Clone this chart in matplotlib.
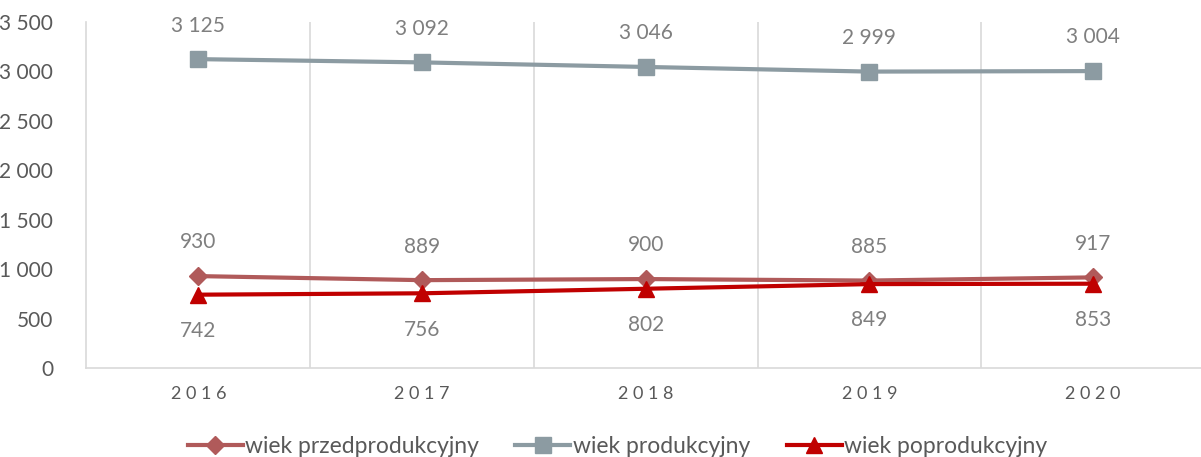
import matplotlib.pyplot as plt

plt.rcParams['font.family'] = ['Lato', 'DejaVu Sans']

years = ['2016', '2017', '2018', '2019', '2020']
przed = [930, 889, 900, 885, 917]
prod = [3125, 3092, 3046, 2999, 3004]
popro = [742, 756, 802, 849, 853]

c_przed = '#B05A5A'
c_prod = '#8C9BA2'
c_popro = '#C00000'
c_text = '#7F7F7F'

fig = plt.figure(figsize=(12.01, 4.57), dpi=100)
ax = fig.add_axes([0.0720, 0.1947, 0.9313, 0.757])

x = list(range(len(years)))
ax.plot(x, przed, color=c_przed, lw=3, marker='D', ms=9, label='wiek przedprodukcyjny', zorder=3)
ax.plot(x, prod, color=c_prod, lw=3, marker='s', ms=11, label='wiek produkcyjny', zorder=3)
ax.plot(x, popro, color=c_popro, lw=3, marker='^', ms=11, label='wiek poprodukcyjny', zorder=3)

def fmt(v):
    return '{:,}'.format(v).replace(',', ' ')

for i in x:
    ax.annotate(fmt(przed[i]), (i, przed[i]), xytext=(0, 17), textcoords='offset points',
                ha='center', va='bottom', fontsize=15, color=c_text)
    ax.annotate(fmt(prod[i]), (i, prod[i]), xytext=(0, 17), textcoords='offset points',
                ha='center', va='bottom', fontsize=15, color=c_text)
    ax.annotate(fmt(popro[i]), (i, popro[i]), xytext=(0, -19), textcoords='offset points',
                ha='center', va='top', fontsize=15, color=c_text)

ax.set_xlim(-0.5, len(years) - 0.5)
ax.set_ylim(0, 3500)
ax.set_yticks(range(0, 3501, 500))
ax.set_yticklabels([fmt(v) for v in range(0, 3501, 500)], fontsize=15, color='#595959')
ax.set_xticks(x)
ax.set_xticklabels([' '.join(y) for y in years], fontsize=13, color='#595959')
ax.tick_params(length=0, pad=13)
ax.tick_params(axis='y', pad=24)

for b in [0.5, 1.5, 2.5, 3.5]:
    ax.axvline(b, color='#D9D9D9', lw=1.2, zorder=1)
for s in ['top', 'right']:
    ax.spines[s].set_visible(False)
for s in ['left', 'bottom']:
    ax.spines[s].set_color('#D9D9D9')
    ax.spines[s].set_linewidth(1.2)

fig.legend(loc='center', bbox_to_anchor=(0.514, 0.022), ncol=3, frameon=False,
           fontsize=16.5, labelcolor='#595959', handlelength=2.4, handletextpad=0.1,
           columnspacing=1.6)

fig.savefig('out.png', dpi=100)
